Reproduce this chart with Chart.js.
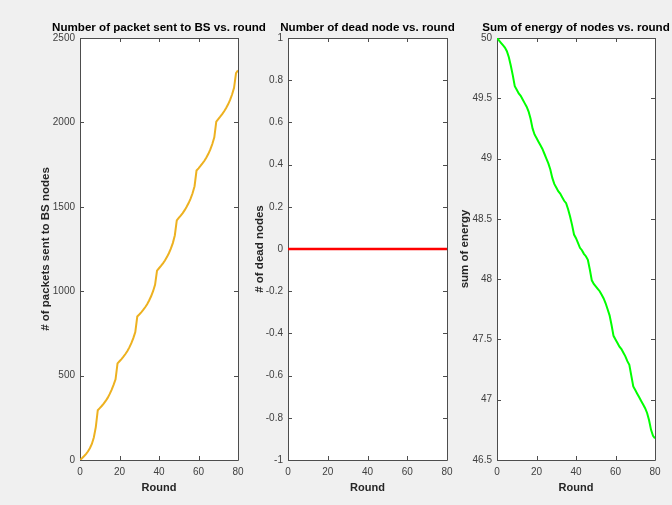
<!DOCTYPE html>
<html>
<head>
<meta charset="utf-8">
<script src="https://cdn.jsdelivr.net/npm/chart.js@4.4.1/dist/chart.umd.min.js"></script>
<style>
	html, body { margin: 0; padding: 0; background: #f0f0f0; }
	#wrap { position: relative; width: 672px; height: 505px; overflow: hidden; }
	#wrap canvas { position: absolute; left: 0; top: 0; }
</style>
</head>
<body>
<div id="wrap">
	<canvas id="packets" width="672" height="505"></canvas>
	<canvas id="dead" width="672" height="505"></canvas>
	<canvas id="energy" width="672" height="505"></canvas>
</div>
<script>
// ----- ----- -----
// data
// ----- ----- -----

const rounds = [
	0, 1, 2, 3, 4, 5, 6, 7, 8, 9,
	10, 11, 12, 13, 14, 15, 16, 17, 18, 19,
	20, 21, 22, 23, 24, 25, 26, 27, 28, 29,
	30, 31, 32, 33, 34, 35, 36, 37, 38, 39,
	40, 41, 42, 43, 44, 45, 46, 47, 48, 49,
	50, 51, 52, 53, 54, 55, 56, 57, 58, 59,
	60, 61, 62, 63, 64, 65, 66, 67, 68, 69,
	70, 71, 72, 73, 74, 75, 76, 77, 78, 79,
	80
];

const packetsToBS = [
	0, 10, 22, 35, 50, 70, 95, 133, 195, 295,
	307, 320, 334, 350, 368, 390, 415, 445, 478, 572,
	585, 598, 612, 628, 646, 667, 692, 722, 758, 850,
	862, 875, 889, 905, 923, 945, 970, 1000, 1038, 1122,
	1136, 1150, 1165, 1182, 1202, 1225, 1252, 1285, 1330, 1420,
	1434, 1448, 1463, 1480, 1500, 1522, 1548, 1580, 1622, 1715,
	1728, 1742, 1757, 1773, 1792, 1814, 1840, 1872, 1912, 2005,
	2020, 2034, 2049, 2066, 2085, 2107, 2133, 2165, 2205, 2292,
	2308
];

const deadNodes = [
	0, 0, 0, 0, 0, 0, 0, 0, 0, 0,
	0, 0, 0, 0, 0, 0, 0, 0, 0, 0,
	0, 0, 0, 0, 0, 0, 0, 0, 0, 0,
	0, 0, 0, 0, 0, 0, 0, 0, 0, 0,
	0, 0, 0, 0, 0, 0, 0, 0, 0, 0,
	0, 0, 0, 0, 0, 0, 0, 0, 0, 0,
	0, 0, 0, 0, 0, 0, 0, 0, 0, 0,
	0, 0, 0, 0, 0, 0, 0, 0, 0, 0,
	0
];

const sumEnergy = [
	50.00, 49.98, 49.96, 49.94, 49.92, 49.89, 49.84, 49.77, 49.69, 49.60,
	49.57, 49.54, 49.52, 49.49, 49.46, 49.43, 49.39, 49.33, 49.25, 49.20,
	49.17, 49.14, 49.11, 49.08, 49.04, 49.00, 48.96, 48.91, 48.84, 48.79,
	48.76, 48.73, 48.71, 48.68, 48.65, 48.63, 48.58, 48.52, 48.45, 48.37,
	48.34, 48.30, 48.26, 48.24, 48.21, 48.19, 48.16, 48.08, 47.99, 47.96,
	47.94, 47.92, 47.90, 47.87, 47.84, 47.80, 47.75, 47.70, 47.62, 47.53,
	47.50, 47.47, 47.44, 47.42, 47.39, 47.36, 47.32, 47.29, 47.20, 47.11,
	47.08, 47.05, 47.02, 46.99, 46.96, 46.93, 46.89, 46.83, 46.75, 46.70,
	46.68
];

const xTicks = { min: 0, max: 80, step: 20 };
const packetTicks = { min: 0, max: 2500, step: 500 };
const deadTicks = { min: -1, max: 1, step: 0.2 };
const energyTicks = { min: 46.5, max: 50, step: 0.5 };

// ----- ----- -----
// matlab-ish look
// ----- ----- -----

const fontFamily = '"Liberation Sans", Arial, Helvetica, sans-serif';
const axisColor = '#4d4d4d';
const tickTextColor = '#404040';

// white plot box, box lines on all four sides, inward tick marks
const axesBoxPlugin = {
	id: 'axesBox',
	beforeDraw(chart) {
		const a = chart.chartArea;
		const ctx = chart.ctx;
		ctx.save();
		ctx.fillStyle = '#ffffff';
		ctx.fillRect(a.left, a.top, a.right - a.left, a.bottom - a.top);
		ctx.restore();
	},
	beforeDatasetsDraw(chart) {
		const a = chart.chartArea;
		const ctx = chart.ctx;
		const xs = chart.scales.x;
		const ys = chart.scales.y;
		const len = 4;
		ctx.save();
		ctx.strokeStyle = axisColor;
		ctx.lineWidth = 1;
		ctx.beginPath();
		ctx.rect(Math.round(a.left) + 0.5, Math.round(a.top) + 0.5,
			Math.round(a.right - a.left), Math.round(a.bottom - a.top));
		xs.ticks.forEach((t) => {
			let px = Math.round(xs.getPixelForValue(t.value)) + 0.5;
			ctx.moveTo(px, a.bottom);
			ctx.lineTo(px, a.bottom - len);
			ctx.moveTo(px, a.top);
			ctx.lineTo(px, a.top + len);
		});
		ys.ticks.forEach((t) => {
			let py = Math.round(ys.getPixelForValue(t.value)) + 0.5;
			ctx.moveTo(a.left, py);
			ctx.lineTo(a.left + len, py);
			ctx.moveTo(a.right, py);
			ctx.lineTo(a.right - len, py);
		});
		ctx.stroke();
		ctx.restore();
	},
	afterDraw(chart) {
		// title centred over the plot box, like matlab does it
		const a = chart.chartArea;
		const ctx = chart.ctx;
		ctx.save();
		ctx.fillStyle = '#000000';
		ctx.font = 'bold 11.6px ' + fontFamily;
		ctx.textAlign = 'center';
		ctx.textBaseline = 'middle';
		ctx.fillText(chart.options.plugins.axesBox.title, (a.left + a.right) / 2, 28);
		ctx.restore();
	}
};

function fmt(v) {
	return String(Math.round(v * 100) / 100);
}

function makePlot(canvasId, box, yTitle, yTicks, values, color, lineWidth, title) {
	// box = plot area in page pixels, yWidth = room for y ticks + label
	const xHeight = 34.6;
	let points = rounds.map((r, i) => ({ x: r, y: values[i] }));

	return new Chart(canvasId, {
		type: 'line',
		data: {
			datasets: [{
				data: points,
				borderColor: color,
				borderWidth: lineWidth,
				pointRadius: 0,
				tension: 0,
				fill: false
			}]
		},
		plugins: [axesBoxPlugin],
		options: {
			responsive: false,
			animation: false,
			devicePixelRatio: 1,
			layout: {
				padding: {
					left: box.left - box.yWidth,
					right: 672 - box.right,
					top: 38,
					bottom: 505 - 460 - xHeight
				}
			},
			plugins: {
				legend: { display: false },
				tooltip: { enabled: false },
				axesBox: { title: title }
			},
			scales: {
				x: {
					type: 'linear',
					min: xTicks.min,
					max: xTicks.max,
					grid: { display: false, drawTicks: false },
					border: { display: false },
					ticks: {
						stepSize: xTicks.step,
						padding: 6,
						color: tickTextColor,
						font: { family: fontFamily, size: 10 },
						maxRotation: 0,
						callback: (v) => fmt(v)
					},
					title: {
						display: true,
						text: 'Round',
						color: '#262626',
						padding: 0,
						font: { family: fontFamily, size: 11, weight: 'bold' }
					},
					afterFit: (scale) => { scale.height = xHeight; }
				},
				y: {
					type: 'linear',
					min: yTicks.min,
					max: yTicks.max,
					grid: { display: false, drawTicks: false },
					border: { display: false },
					ticks: {
						stepSize: yTicks.step,
						padding: 5,
						color: tickTextColor,
						font: { family: fontFamily, size: 10 },
						callback: (v) => fmt(v)
					},
					title: {
						display: true,
						text: yTitle,
						color: '#262626',
						padding: 0,
						font: { family: fontFamily, size: 11.5, weight: 'bold' }
					},
					afterFit: (scale) => { scale.width = box.yWidth; }
				}
			}
		}
	});
}

makePlot('packets', { left: 80, right: 238, yWidth: 40.6 },
	'# of packets sent to BS nodes', packetTicks, packetsToBS,
	'#EDB120', 2, 'Number of packet sent to BS vs. round');

makePlot('dead', { left: 288, right: 447, yWidth: 34.6 },
	'# of dead nodes', deadTicks, deadNodes,
	'#ff0000', 2.5, 'Number of dead node vs. round');

makePlot('energy', { left: 497, right: 655, yWidth: 38.6 },
	'sum of energy', energyTicks, sumEnergy,
	'#00ff00', 2, 'Sum of energy of nodes vs. round');
</script>
</body>
</html>
